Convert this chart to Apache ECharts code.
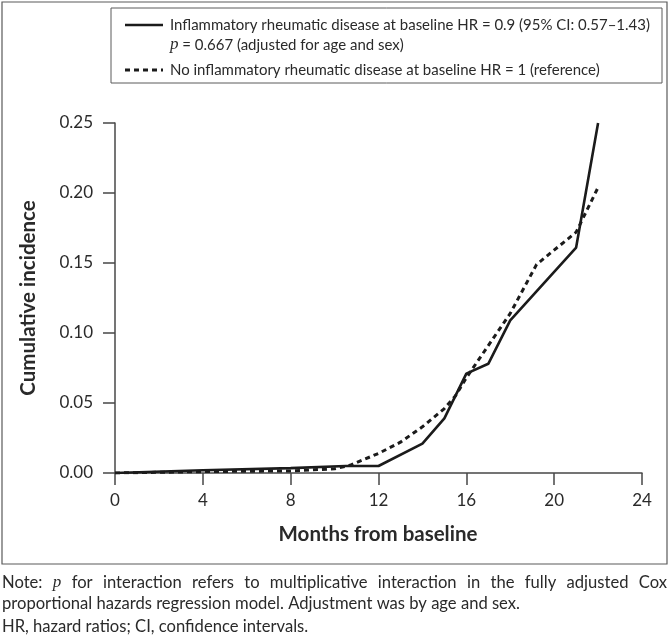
<!DOCTYPE html>
<html><head><meta charset="utf-8">
<script src="https://cdn.jsdelivr.net/npm/echarts@6/dist/echarts.min.js"></script>
<style>html,body{margin:0;padding:0;background:#fff}#c{width:670px;height:636px}</style>
</head><body><div id="c"></div>
<script>
// ---- data ----
const monthsIRD = [0, 4, 8, 10.5, 12, 14, 15, 16, 17, 18, 21, 22];
const incidenceIRD = [0, 0.002, 0.0035, 0.005, 0.005, 0.021, 0.039, 0.071, 0.078, 0.109, 0.161, 0.25];
const monthsNoIRD = [0, 4, 8, 10, 10.7, 12, 13, 14, 15, 15.5, 16, 17, 18, 19.2, 21, 22];
const incidenceNoIRD = [0, 0.001, 0.0015, 0.003, 0.0055, 0.014, 0.022, 0.033, 0.046, 0.055, 0.068, 0.091, 0.114, 0.149, 0.172, 0.204];
const xTickLabels = ['0', '4', '8', '12', '16', '20', '24'];
const yTickLabels = ['0.00', '0.05', '0.10', '0.15', '0.20', '0.25'];
const seriesNames = ['Inflammatory rheumatic disease at baseline', 'No inflammatory rheumatic disease at baseline'];
const legendLine1 = 'Inflammatory rheumatic disease at baseline HR = 0.9 (95% CI: 0.57\u20131.43)';
const legendLine2 = ' = 0.667 (adjusted for age and sex)';
const legendLine3 = 'No inflammatory rheumatic disease at baseline HR = 1 (reference)';
const xTitle = 'Months from baseline';
const yTitle = 'Cumulative incidence';
const noteLine1 = ['Note:', '*p', 'for', 'interaction', 'refers', 'to', 'multiplicative', 'interaction', 'in', 'the', 'fully', 'adjusted', 'Cox'];
const noteLine2 = 'proportional hazards regression model. Adjustment was by age and sex.';
const noteLine3 = 'HR, hazard ratios; CI, confidence intervals.';

// ---- styles ----
const FF = 'Lato';
const TXT = '#2a2a2a';
const LINE = '#1b1b1b';
const AX = '#474747';
const TICKFS = 17;
const TITLEFS = 20.5;

const cv = document.createElement('canvas').getContext('2d');
function tw(t, font) { cv.font = font; return cv.measureText(t).width; }

// legend font sized so the first legend line spans ~480px as in the reference
const LEGFS = Math.min(16.2, 16 * 480 / tw(legendLine1, '16px ' + FF));

const noteFS = 16.6;
const normFont = noteFS + 'px ' + FF;
const itFont = 'italic 17px "Liberation Serif"';
const noteEls = [];
(function () {
  const left = 2, right = 667;
  const widths = noteLine1.map(w => w[0] === '*' ? tw(w.slice(1), itFont) : tw(w, normFont));
  const total = widths.reduce((a, b) => a + b, 0);
  const gap = (right - left - total) / (noteLine1.length - 1);
  let x = left;
  noteLine1.forEach((w, i) => {
    const it = w[0] === '*';
    noteEls.push({
      type: 'text', x: x, y: 583,
      style: {
        text: it ? w.slice(1) : w, fill: TXT,
        fontSize: it ? 17 : noteFS, fontFamily: it ? 'Liberation Serif' : FF,
        fontStyle: it ? 'italic' : 'normal',
        textAlign: 'left', textVerticalAlign: 'middle'
      }
    });
    x += widths[i] + gap;
  });
})();

const chart = echarts.init(document.getElementById('c'), null, { renderer: 'canvas' });
chart.setOption({
  animation: false,
  backgroundColor: '#fff',
  grid: { left: 115, right: 28, top: 123, bottom: 163 },
  xAxis: {
    type: 'value', min: 0, max: 24, interval: 4,
    axisLine: { show: true, onZero: false, lineStyle: { color: AX, width: 1.5 } },
    axisTick: { show: true, length: 12, lineStyle: { color: AX, width: 1.5 } },
    splitLine: { show: false },
    axisLabel: { margin: 19, color: TXT, fontSize: TICKFS, fontFamily: FF,
      formatter: v => xTickLabels[Math.round(v / 4)] }
  },
  yAxis: {
    type: 'value', min: 0, max: 0.25, interval: 0.05,
    axisLine: { show: true, lineStyle: { color: AX, width: 1.5 } },
    axisTick: { show: true, length: 12, lineStyle: { color: AX, width: 1.5 } },
    splitLine: { show: false },
    axisLabel: { margin: 22, color: TXT, fontSize: TICKFS, fontFamily: FF,
      formatter: v => yTickLabels[Math.round(v / 0.05)] }
  },
  series: [
    {
      name: seriesNames[0], type: 'line', symbol: 'none',
      data: monthsIRD.map((m, i) => [m, incidenceIRD[i]]),
      lineStyle: { color: LINE, width: 2.6 }, z: 3
    },
    {
      name: seriesNames[1], type: 'line', symbol: 'none',
      data: monthsNoIRD.map((m, i) => [m, incidenceNoIRD[i]]),
      lineStyle: { color: LINE, width: 3, type: [5, 4] }, z: 2
    }
  ],
  graphic: [
    { type: 'rect', shape: { x: 2, y: 2, width: 665, height: 562 },
      style: { fill: 'none', stroke: '#5a5a5a', lineWidth: 1.2 }, silent: true },
    { type: 'rect', shape: { x: 111, y: 8, width: 551, height: 75 },
      style: { fill: '#fff', stroke: '#5a5a5a', lineWidth: 1 }, z: 10 },
    { type: 'line', shape: { x1: 125, y1: 25, x2: 163, y2: 25 },
      style: { stroke: LINE, lineWidth: 2.6 }, z: 11 },
    { type: 'line', shape: { x1: 125, y1: 70, x2: 163, y2: 70 },
      style: { stroke: LINE, lineWidth: 3, lineDash: [5, 4] }, z: 11 },
    { type: 'text', x: 170, y: 25, z: 11,
      style: { text: legendLine1, fill: TXT, fontSize: LEGFS, fontFamily: FF, textVerticalAlign: 'middle' } },
    { type: 'text', x: 170, y: 45, z: 11,
      style: { text: '{i|p}' + legendLine2, fill: TXT, fontSize: LEGFS, fontFamily: FF, textVerticalAlign: 'middle',
        rich: { i: { fontStyle: 'italic', fontFamily: 'Liberation Serif', fontSize: 17, fill: TXT } } } },
    { type: 'text', x: 170, y: 70, z: 11,
      style: { text: legendLine3, fill: TXT, fontSize: LEGFS, fontFamily: FF, textVerticalAlign: 'middle' } },
    { type: 'text', x: 378, y: 534,
      style: { text: xTitle, fill: TXT, fontSize: TITLEFS, fontWeight: 'bold', fontFamily: FF,
        textAlign: 'center', textVerticalAlign: 'middle' } },
    { type: 'text', x: 28, y: 298, rotation: Math.PI / 2,
      style: { text: yTitle, fill: TXT, fontSize: TITLEFS, fontWeight: 'bold', fontFamily: FF,
        textAlign: 'center', textVerticalAlign: 'middle' } },
    ...noteEls,
    { type: 'text', x: 2, y: 604,
      style: { text: noteLine2, fill: TXT, fontSize: noteFS, fontFamily: FF, textVerticalAlign: 'middle' } },
    { type: 'text', x: 2, y: 627,
      style: { text: noteLine3, fill: TXT, fontSize: noteFS, fontFamily: FF, textVerticalAlign: 'middle' } }
  ]
});
</script></body></html>
